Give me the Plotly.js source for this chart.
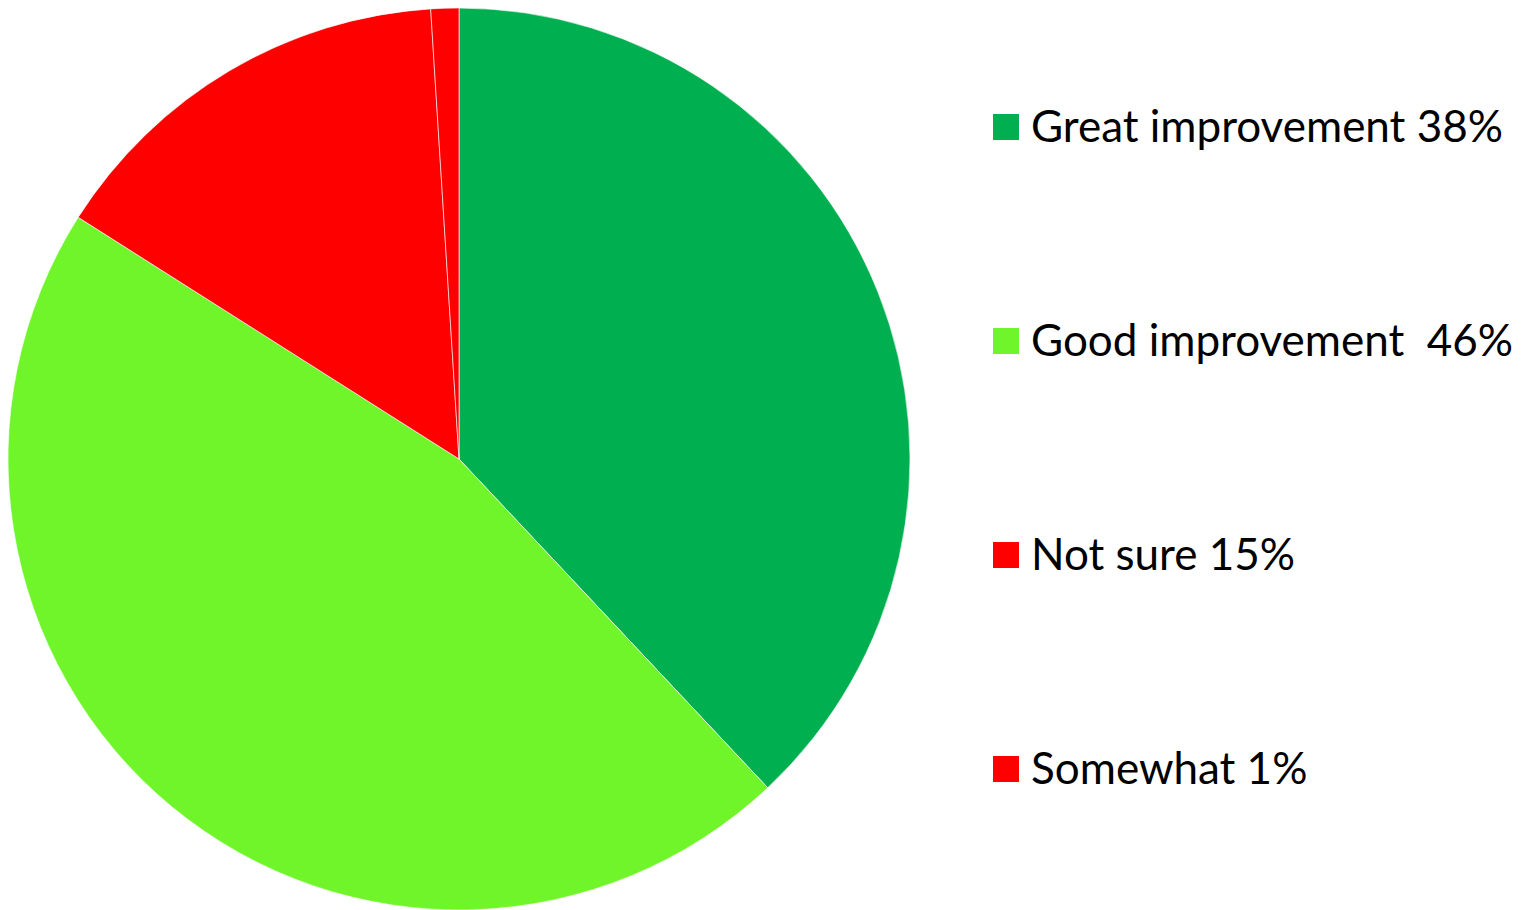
<!DOCTYPE html>
<html>
<head>
<meta charset="utf-8">
<script src="https://cdn.plot.ly/plotly-3.0.1.min.js"></script>
<style>html,body{margin:0;padding:0;background:#fff;}#chart{width:1532px;height:910px;}</style>
</head>
<body>
<div id="chart"></div>
<script>
const categories = ["Great improvement", "Good improvement", "Not sure", "Somewhat"];
const values = [38, 46, 15, 1];
const legendLabels = ["Great improvement 38%", "Good improvement  46%", "Not sure 15%", "Somewhat 1%"];
const colors = ["#00B050", "#70F52B", "#FF0000", "#FF0000"];

const W = 1532, H = 910;
const legendY = [127, 341, 555, 769];

const trace = {
  type: "pie",
  labels: categories,
  values: values,
  sort: false,
  direction: "clockwise",
  rotation: 0,
  textinfo: "none",
  marker: {colors: colors, line: {color: "rgba(255,255,255,0.6)", width: 1}},
  domain: {x: [8 / W, 910 / W], y: [0, (H - 8) / H]},
  showlegend: false
};

const shapes = [], annotations = [];
legendLabels.forEach((t, i) => {
  const cy = legendY[i];
  shapes.push({type: "rect", xref: "paper", yref: "paper",
    x0: 993 / W, x1: 1019 / W, y0: 1 - (cy + 13) / H, y1: 1 - (cy - 13) / H,
    fillcolor: colors[i], line: {width: 0}});
  annotations.push({xref: "paper", yref: "paper", x: 1029 / W, y: 1 - (cy - 2) / H,
    xanchor: "left", yanchor: "middle", showarrow: false, text: t.replace(/  /g, "&nbsp; "),
    font: {family: "Lato, 'Open Sans', sans-serif", size: 44, color: "#000"}});
});

Plotly.newPlot("chart", [trace], {
  width: W, height: H,
  margin: {l: 0, r: 0, t: 0, b: 0},
  paper_bgcolor: "#fff",
  showlegend: false,
  shapes: shapes,
  annotations: annotations
}, {displayModeBar: false, staticPlot: true});
</script>
</body>
</html>
